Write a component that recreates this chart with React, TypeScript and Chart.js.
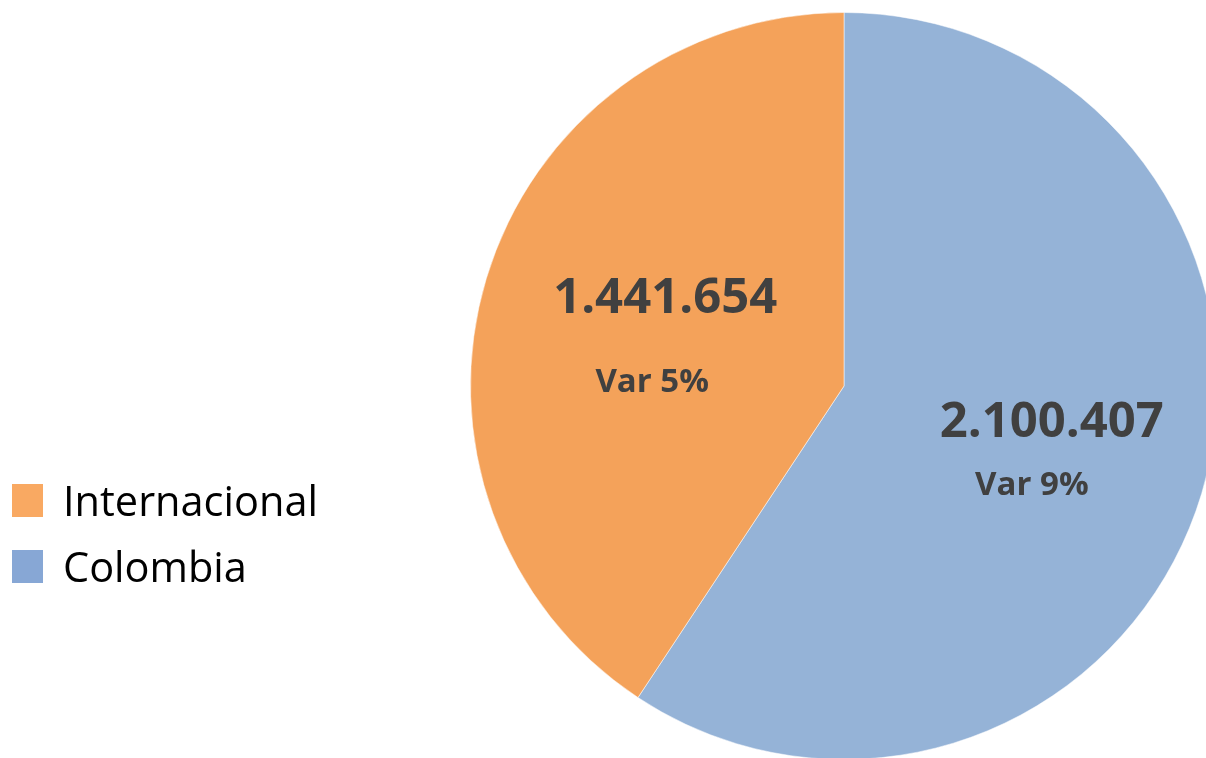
import React, { useEffect, useRef } from "react";
import { Chart, registerables } from "chart.js";

Chart.register(...registerables);

const categories = ["Colombia", "Internacional"];
const values = [2100407, 1441654];
const valueLabels = ["2.100.407", "1.441.654"];
const varLabels = ["Var 9%", "Var 5%"];
const sliceColors = ["#95B3D7", "#F4A25A"];
const legendOrder = ["Internacional", "Colombia"];
const legendColors = ["#F9A962", "#87A7D5"];

// label placement relative to arc mid-angle point (fraction of radius) + offsets
const labelFrac = 0.5;
const valueOffsets = [[29, -17], [0, -33]];
const varOffsets = [[9, 46], [-13, 50]];

const labelPlugin = {
  id: "sliceLabels",
  afterDatasetsDraw(chart: any) {
    const { ctx } = chart;
    const meta = chart.getDatasetMeta(0);
    meta.data.forEach((arc: any, i: number) => {
      const p = arc.getProps(["x", "y", "startAngle", "endAngle", "outerRadius"], true);
      const mid = (p.startAngle + p.endAngle) / 2;
      const ax = p.x + Math.cos(mid) * p.outerRadius * labelFrac;
      const ay = p.y + Math.sin(mid) * p.outerRadius * labelFrac;
      ctx.save();
      ctx.fillStyle = "#404040";
      ctx.textAlign = "center";
      ctx.textBaseline = "middle";
      ctx.font = "bold 49px 'Open Sans'";
      ctx.fillText(valueLabels[i], ax + valueOffsets[i][0], ay + valueOffsets[i][1]);
      ctx.font = "bold 33px 'Open Sans'";
      ctx.fillText(varLabels[i], ax + varOffsets[i][0], ay + varOffsets[i][1]);
      ctx.restore();
    });
  },
};

export default function App() {
  const ref = useRef<HTMLCanvasElement>(null);
  useEffect(() => {
    if (!ref.current) return;
    const chart = new Chart(ref.current, {
      type: "pie",
      data: {
        labels: categories,
        datasets: [
          {
            data: values,
            backgroundColor: sliceColors,
            borderColor: "rgba(255,255,255,0.5)",
            borderWidth: 1,
          },
        ],
      },
      options: {
        responsive: false,
        animation: false,
        layout: { padding: { left: 470, top: 12, right: 82, bottom: 40 } },
        plugins: {
          legend: { display: false },
          tooltip: { enabled: false },
        },
      },
      plugins: [labelPlugin],
    });
    return () => chart.destroy();
  }, []);

  return (
    <div
      style={{
        position: "absolute",
        left: 0,
        top: 0,
        width: 1206,
        height: 758,
        overflow: "hidden",
        background: "#fff",
      }}
    >
      <canvas ref={ref} width={1300} height={800} style={{ position: "absolute", left: 0, top: 0 }} />
      {legendOrder.map((name, i) => (
        <div
          key={name}
          style={{
            position: "absolute",
            left: 12,
            top: 484 + i * 66,
            height: 33,
            display: "flex",
            alignItems: "center",
          }}
        >
          <div style={{ width: 31, height: 33, background: legendColors[i] }} />
          <span
            style={{
              marginLeft: 20,
              fontFamily: "'Open Sans'",
              fontSize: 41.5,
              color: "#000",
              lineHeight: "33px",
              whiteSpace: "nowrap",
            }}
          >
            {name}
          </span>
        </div>
      ))}
    </div>
  );
}
